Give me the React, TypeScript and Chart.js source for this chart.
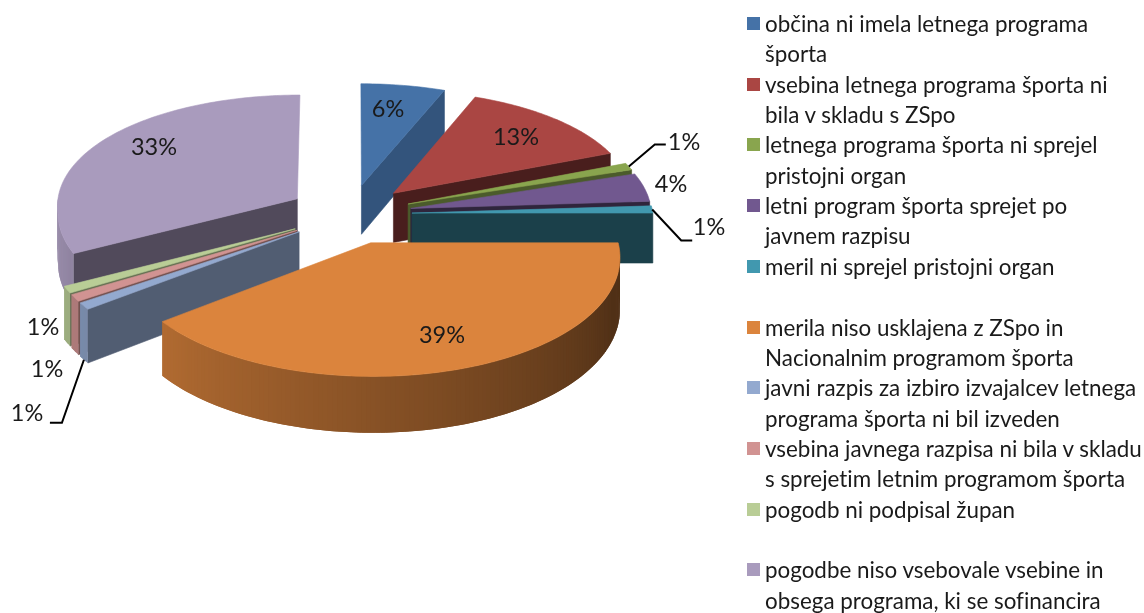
import React, { useEffect, useRef } from "react";
import { Chart, registerables } from "chart.js";

Chart.register(...registerables);

const categoryLines: string[][] = [
  ["občina ni imela letnega programa", "športa"],
  ["vsebina letnega programa športa ni", "bila v skladu s ZSpo"],
  ["letnega programa športa ni sprejel", "pristojni organ"],
  ["letni program športa sprejet po", "javnem razpisu"],
  ["meril ni sprejel pristojni organ", ""],
  ["merila niso usklajena z ZSpo in", "Nacionalnim programom športa"],
  ["javni razpis za izbiro izvajalcev letnega", "programa športa ni bil izveden"],
  ["vsebina javnega razpisa ni bila v skladu", "s sprejetim letnim programom športa"],
  ["pogodb ni podpisal župan", ""],
  ["pogodbe niso vsebovale vsebine in", "obsega programa, ki se sofinancira"],
];
const categories = categoryLines.map((l) => l.join(" ").trim());
// shares; the labels show them rounded
const percentages = [6, 13, 1, 4, 1, 39.49, 0.94, 0.94, 0.94, 32.69];
const colors = ["#4572A7", "#AA4643", "#89A54E", "#71588F", "#4198AF", "#DB843D", "#93A9CF", "#D19392", "#B9CD96", "#A99BBD"];
const faceShade = [0.74, 0.43, 0.55, 0.42, 0.42, 0.5, 0.55, 0.55, 0.55, 0.48];

// text layout of the value labels
const labelPlaces: [number, number][] = [
  [388, 109], [516, 137], [684, 142], [671, 184], [709, 227],
  [442, 335], [27, 413], [47, 369], [43, 327], [154, 147],
];
// leader lines: slice index, share of wall height at the start, bends relative to the start
const leaders: { i: number; drop: number; bends: [number, number][] }[] = [
  { i: 2, drop: 0, bends: [[26, -22], [37, -22]] },
  { i: 4, drop: 0, bends: [[29, 31], [40, 31]] },
  { i: 6, drop: 1, bends: [[-22, 63], [-34, 63]] },
];

const EXPLODE = 62;
const RADIUS = 241;
const SQUASH = 0.4806;
const PERSPECTIVE_Y = 0.000378;
const PERSPECTIVE_X_FRONT = 0.00045;
const PERSPECTIVE_X_BACK = 0.00022;
const WALL = 50;
const FONT = "Lato";
const LABEL_SIZE = 23.5;
const LEGEND_SIZE = 22.4;
const LEGEND_STEP = 30.35;

function shade(hex: string, f: number) {
  const n = parseInt(hex.slice(1), 16);
  const c = [(n >> 16) & 255, (n >> 8) & 255, n & 255].map((v) => Math.round(v * f));
  return `rgb(${c[0]},${c[1]},${c[2]})`;
}

const pie3d = {
  id: "pie3d",
  beforeDatasetsDraw(chart: any) {
    const ctx: CanvasRenderingContext2D = chart.ctx;
    const arcs: any[] = chart.getDatasetMeta(0).data;
    const project = (arc: any, a: number, r: number, drop: number): [number, number] => {
      const mid = (arc.startAngle + arc.endAngle) / 2;
      const off = arc.options.offset;
      const X = Math.cos(mid) * off + Math.cos(a) * r;
      const Y = Math.sin(mid) * off + Math.sin(a) * r;
      const s = 1 / (1 - PERSPECTIVE_Y * Y);
      const sx = 1 / (1 - (Y > 0 ? PERSPECTIVE_X_FRONT : PERSPECTIVE_X_BACK) * Y);
      return [arc.x + X * sx, arc.y + (Y * SQUASH + drop) * s];
    };
    const fillPoly = (pts: [number, number][], color: string, outline = true) => {
      ctx.beginPath();
      pts.forEach((p, k) => (k ? ctx.lineTo(p[0], p[1]) : ctx.moveTo(p[0], p[1])));
      ctx.closePath();
      ctx.fillStyle = color;
      ctx.fill();
      if (outline) {
        ctx.strokeStyle = color;
        ctx.lineWidth = 0.6;
        ctx.stroke();
      }
    };
    const order = arcs
      .map((arc, i) => ({ arc, i }))
      .sort((p, q) => Math.sin((p.arc.startAngle + p.arc.endAngle) / 2) - Math.sin((q.arc.startAngle + q.arc.endAngle) / 2));
    ctx.save();
    for (const { arc, i } of order) {
      const { startAngle: a0, endAngle: a1, outerRadius: r } = arc;
      const base = colors[i];
      const dark = shade(base, faceShade[i]);
      const face = (a: number) => {
        fillPoly(
          [project(arc, a, 0, 0), project(arc, a, r, 0), project(arc, a, r, WALL), project(arc, a, 0, WALL)],
          dark,
        );
      };
      if (Math.sin(a0 - Math.PI / 2) > 0.001) face(a0);
      if (Math.sin(a1 + Math.PI / 2) > 0.001) face(a1);
      const steps = Math.max(2, Math.ceil((a1 - a0) / (Math.PI / 180)));
      const step = (a1 - a0) / steps;
      // wall bands are painted from the last to the first, each one reaching under the next band
      for (let k = steps - 1; k >= 0; k--) {
        const b0 = a0 + step * k;
        const b1 = b0 + step;
        if (Math.sin((b0 + b1) / 2) <= 0) continue;
        const deg = (((b0 + b1) / 2 + Math.PI / 2) * 180) / Math.PI;
        const f = Math.min(0.88, Math.max(0.37, 0.37 + ((deg - 110) * 0.47) / 130));
        const end = k === steps - 1 ? b1 : b1 + step;
        fillPoly(
          [project(arc, b0, r, 0), project(arc, end, r, 0), project(arc, end, r, WALL), project(arc, b0, r, WALL)],
          shade(base, f),
          false,
        );
      }
      const top: [number, number][] = [project(arc, a0, 0, 0)];
      for (let k = 0; k <= steps; k++) top.push(project(arc, a0 + step * k, r, 0));
      fillPoly(top, base);
    }
    // leader lines
    ctx.strokeStyle = "#000";
    ctx.lineWidth = 2;
    for (const l of leaders) {
      const arc = arcs[l.i];
      const mid = (arc.startAngle + arc.endAngle) / 2;
      const s = project(arc, mid, arc.outerRadius, l.drop * WALL);
      ctx.beginPath();
      ctx.moveTo(s[0], s[1]);
      l.bends.forEach((b) => ctx.lineTo(s[0] + b[0], s[1] + b[1]));
      ctx.stroke();
    }
    // value labels
    ctx.font = `${LABEL_SIZE}px ${FONT}`;
    ctx.fillStyle = "#1a1a1a";
    ctx.textAlign = "center";
    ctx.textBaseline = "middle";
    percentages.forEach((v, i) => ctx.fillText(`${Math.round(v)}%`, labelPlaces[i][0], labelPlaces[i][1]));
    ctx.restore();
    return false;
  },
};

export default function App() {
  const ref = useRef<HTMLCanvasElement>(null);
  useEffect(() => {
    const chart = new Chart(ref.current as HTMLCanvasElement, {
      type: "pie",
      data: {
        labels: categories,
        datasets: [{ data: percentages, backgroundColor: colors, offset: EXPLODE, borderWidth: 0 }],
      },
      options: {
        responsive: false,
        animation: false,
        radius: RADIUS,
        rotation: 0,
        layout: { padding: { right: 444, bottom: 185 } },
        plugins: { legend: { display: false }, tooltip: { enabled: false } },
      } as any,
      plugins: [pie3d as any],
    });
    return () => chart.destroy();
  }, []);

  let row = 0;
  const rows = categoryLines.map((lines, i) => {
    const y = 24 + row * LEGEND_STEP;
    row += 2;
    return (
      <React.Fragment key={i}>
        <div style={{ position: "absolute", left: 747, top: y - 7, width: 13, height: 13, background: colors[i] }} />
        {lines.map((t, k) =>
          t ? (
            <div
              key={k}
              style={{
                position: "absolute",
                left: 765,
                top: y + k * LEGEND_STEP - 15,
                lineHeight: "30px",
                whiteSpace: "nowrap",
                fontFamily: FONT,
                fontSize: LEGEND_SIZE,
                fontVariantLigatures: "none",
                color: "#1a1a1a",
              }}
            >
              {t}
            </div>
          ) : null,
        )}
      </React.Fragment>
    );
  });

  return (
    <div style={{ position: "absolute", left: 0, top: 0, width: 1144, height: 613, overflow: "hidden", background: "#fff" }}>
      <canvas ref={ref} width={1144} height={613} style={{ display: "block", position: "absolute", left: 0, top: 0 }} />
      {rows}
    </div>
  );
}
